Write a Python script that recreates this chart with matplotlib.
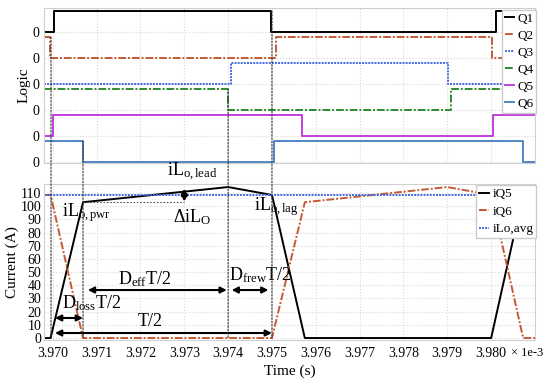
import matplotlib
matplotlib.use("Agg")
import matplotlib.pyplot as plt
from matplotlib.patches import ConnectionPatch

plt.rcParams['font.family'] = ['Liberation Serif', 'DejaVu Serif']
plt.rcParams['mathtext.fontset'] = 'custom'
plt.rcParams['mathtext.rm'] = 'Liberation Serif'
plt.rcParams['mathtext.it'] = 'Liberation Serif:italic'

# ---------------- data (time in units of 1e-3 s) ----------------
q_names = ['Q1', 'Q2', 'Q3', 'Q4', 'Q5', 'Q6']
q1_t = [3.9698, 3.97003, 3.97498, 3.98011, 3.9811]
q1_v = [0, 1, 0, 1, 1]
q2_t = [3.9698, 3.96994, 3.97509, 3.98002, 3.9811]
q2_v = [1, 0, 1, 0, 0]
q3_t = [3.9698, 3.97406, 3.97901, 3.9811]
q3_v = [0, 1, 0, 0]
q4_t = [3.9698, 3.97400, 3.97908, 3.9811]
q4_v = [1, 0, 1, 1]
q5_t = [3.9698, 3.97000, 3.97568, 3.98004, 3.9811]
q5_v = [0, 1, 0, 1, 1]
q6_t = [3.9698, 3.97069, 3.97504, 3.98073, 3.9811]
q6_v = [1, 0, 1, 0, 0]

iq5_t = [3.9698, 3.96995, 3.97069, 3.974, 3.975, 3.97575, 3.980, 3.98069, 3.9811]
iq5_v = [0, 0, 103, 114.5, 108.5, 0, 0, 103, 104]
iq6_t = [3.9698, 3.96995, 3.97069, 3.975, 3.97575, 3.979, 3.980, 3.98073, 3.9811]
iq6_v = [108.5, 108.5, 0, 0, 103, 114.5, 108.5, 0, 0]
ilo_avg = 108.5

x_ticks = [3.970, 3.971, 3.972, 3.973, 3.974, 3.975, 3.976, 3.977, 3.978, 3.979, 3.980]
x_ticklabels = ['3.970', '3.971', '3.972', '3.973', '3.974', '3.975', '3.976', '3.977', '3.978', '3.979', '3.980']
y_ticks = [0, 10, 20, 30, 40, 50, 60, 70, 80, 90, 100, 110]

# ---------------- figure ----------------
fig = plt.figure(figsize=(5.5, 3.81), dpi=100)
ax1 = fig.add_axes([0.08, 0.5722, 0.8927, 0.4068])
ax2 = fig.add_axes([0.08, 0.1076, 0.8927, 0.4094])

spine_c = '#cfcfcf'
grid_kw = dict(color='#d8d8d8', linestyle=':', linewidth=0.8)

q_t = [q1_t, q2_t, q3_t, q4_t, q5_t, q6_t]
q_v = [q1_v, q2_v, q3_v, q4_v, q5_v, q6_v]
q_colors = ['black', '#c45a35', '#4169e1', '#2e8b2e', '#c03ee0', '#4f86c6']
q_styles = [dict(linestyle='-'), dict(dashes=(4, 1, 1, 1)), dict(linestyle=(0, (1, 0.6))),
            dict(dashes=(4, 1, 1, 1)), dict(linestyle='-'), dict(linestyle='-')]
step = 1.25
offsets = [step * (5 - i) for i in range(6)]
for i in range(6):
    ax1.plot(q_t[i], [v + offsets[i] for v in q_v[i]], drawstyle='steps-post',
             color=q_colors[i], lw=1.4, label=q_names[i], **q_styles[i])

ax1.set_xlim(3.9698, 3.981)
ax1.set_ylim(-0.05, 7.40)
ax1.set_yticks(offsets)
ax1.set_yticklabels(['0'] * 6)
ax1.set_xticks(x_ticks)
ax1.set_xticklabels([])
ax1.set_ylabel('Logic', fontsize=11, labelpad=2)
ax1.grid(True, **grid_kw)
ax1.tick_params(length=0, labelsize=10, pad=3)
for s in ax1.spines.values():
    s.set_color(spine_c)
leg1 = ax1.legend(loc='upper right', bbox_to_anchor=(1.005, 0.995), fontsize=9.5,
                  handlelength=0.7, handletextpad=0.25, labelspacing=0.36,
                  borderpad=0.2, borderaxespad=0.1, fancybox=False, framealpha=1,
                  edgecolor='#cccccc')

# bottom
ax2.plot(iq5_t, iq5_v, color='black', lw=1.4, label='iQ5')
ax2.plot(iq6_t, iq6_v, color='#c45a35', lw=1.4, dashes=(4, 1, 1, 1), label='iQ6')
ax2.axhline(ilo_avg, color='#4169e1', lw=1.4, linestyle=(0, (1, 0.6)), label='iLo,avg')
ax2.set_xlim(3.9698, 3.981)
ax2.set_ylim(-1.5, 116.8)
ax2.set_xticks(x_ticks)
ax2.set_xticklabels(x_ticklabels)
ax2.set_yticks(y_ticks)
ax2.set_ylabel('Current (A)', fontsize=11, labelpad=1)
ax2.set_xlabel('Time (s)', fontsize=11, labelpad=3)
ax2.grid(True, **grid_kw)
ax2.tick_params(length=0, labelsize=10, pad=3)
ax2.tick_params(axis='x', pad=5)
ax2.tick_params(axis='y', pad=2)
for s in ax2.spines.values():
    s.set_color(spine_c)
ax2.text(0.951, -0.083, '× 1e-3', transform=ax2.transAxes, ha='left', va='center', fontsize=9)
leg2 = ax2.legend(loc='upper right', bbox_to_anchor=(1.005, 1.0), fontsize=9.5,
                  handlelength=0.8, handletextpad=0.25, labelspacing=0.4,
                  borderpad=0.2, borderaxespad=0.1, fancybox=False, framealpha=1,
                  edgecolor='#cccccc')

# dotted vertical guides spanning both panels
guides = [(3.96996, offsets[1] + 1), (3.97069, offsets[5] + 1),
          (3.974, offsets[3] + 1), (3.975, offsets[0] + 1)]
for gx, gy in guides:
    cp = ConnectionPatch(xyA=(gx, gy), coordsA=ax1.transData, xyB=(gx, 0), coordsB=ax2.transData,
                         color='#333333', lw=0.8, linestyle=(0, (1.5, 1.5)), zorder=0.5)
    fig.add_artist(cp)

# delta reference line
ax2.plot([3.97069, 3.973], [102.8, 102.8], color='#555555', lw=0.8, linestyle=(0, (1.5, 1.5)))

arrow_kw = dict(arrowstyle='<|-|>', color='black', lw=1.5, mutation_scale=9, shrinkA=0, shrinkB=0)
ax2.annotate('', xy=(3.973, 103.5), xytext=(3.973, 113.3), arrowprops=arrow_kw)
ax2.annotate('', xy=(3.97080, 36.4), xytext=(3.97397, 36.4), arrowprops=arrow_kw)
ax2.annotate('', xy=(3.97408, 36.4), xytext=(3.97492, 36.4), arrowprops=arrow_kw)
ax2.annotate('', xy=(3.97005, 15.2), xytext=(3.97069, 15.2), arrowprops=arrow_kw)
ax2.annotate('', xy=(3.97005, 3.8), xytext=(3.97500, 3.8), arrowprops=arrow_kw)

tfs = 13
ax2.text(3.97020, 95.5, r'iL$_{\mathrm{o,pwr}}$', fontsize=tfs, ha='left', va='center')
ax2.text(3.97317, 117.3, r'iL$_{\mathrm{o,lead}}$', fontsize=tfs, ha='center', va='bottom', clip_on=False)
ax2.text(3.97317, 91.8, r'ΔiL$_{\mathrm{O}}$', fontsize=tfs, ha='center', va='center')
ax2.text(3.97458, 99.4, r'iL$_{\mathrm{o,lag}}$', fontsize=tfs, ha='left', va='center')
ax2.text(3.97210, 44.5, r'D$_{\mathrm{eff}}$T/2', fontsize=tfs, ha='center', va='center')
ax2.text(3.97402, 47.5, r'D$_{\mathrm{frew}}$T/2', fontsize=tfs, ha='left', va='center')
ax2.text(3.97021, 26.5, r'D$_{\mathrm{loss}}$T/2', fontsize=tfs, ha='left', va='center')
ax2.text(3.97222, 12.5, 'T/2', fontsize=tfs, ha='center', va='center')

fig.savefig('out.png', dpi=100)
